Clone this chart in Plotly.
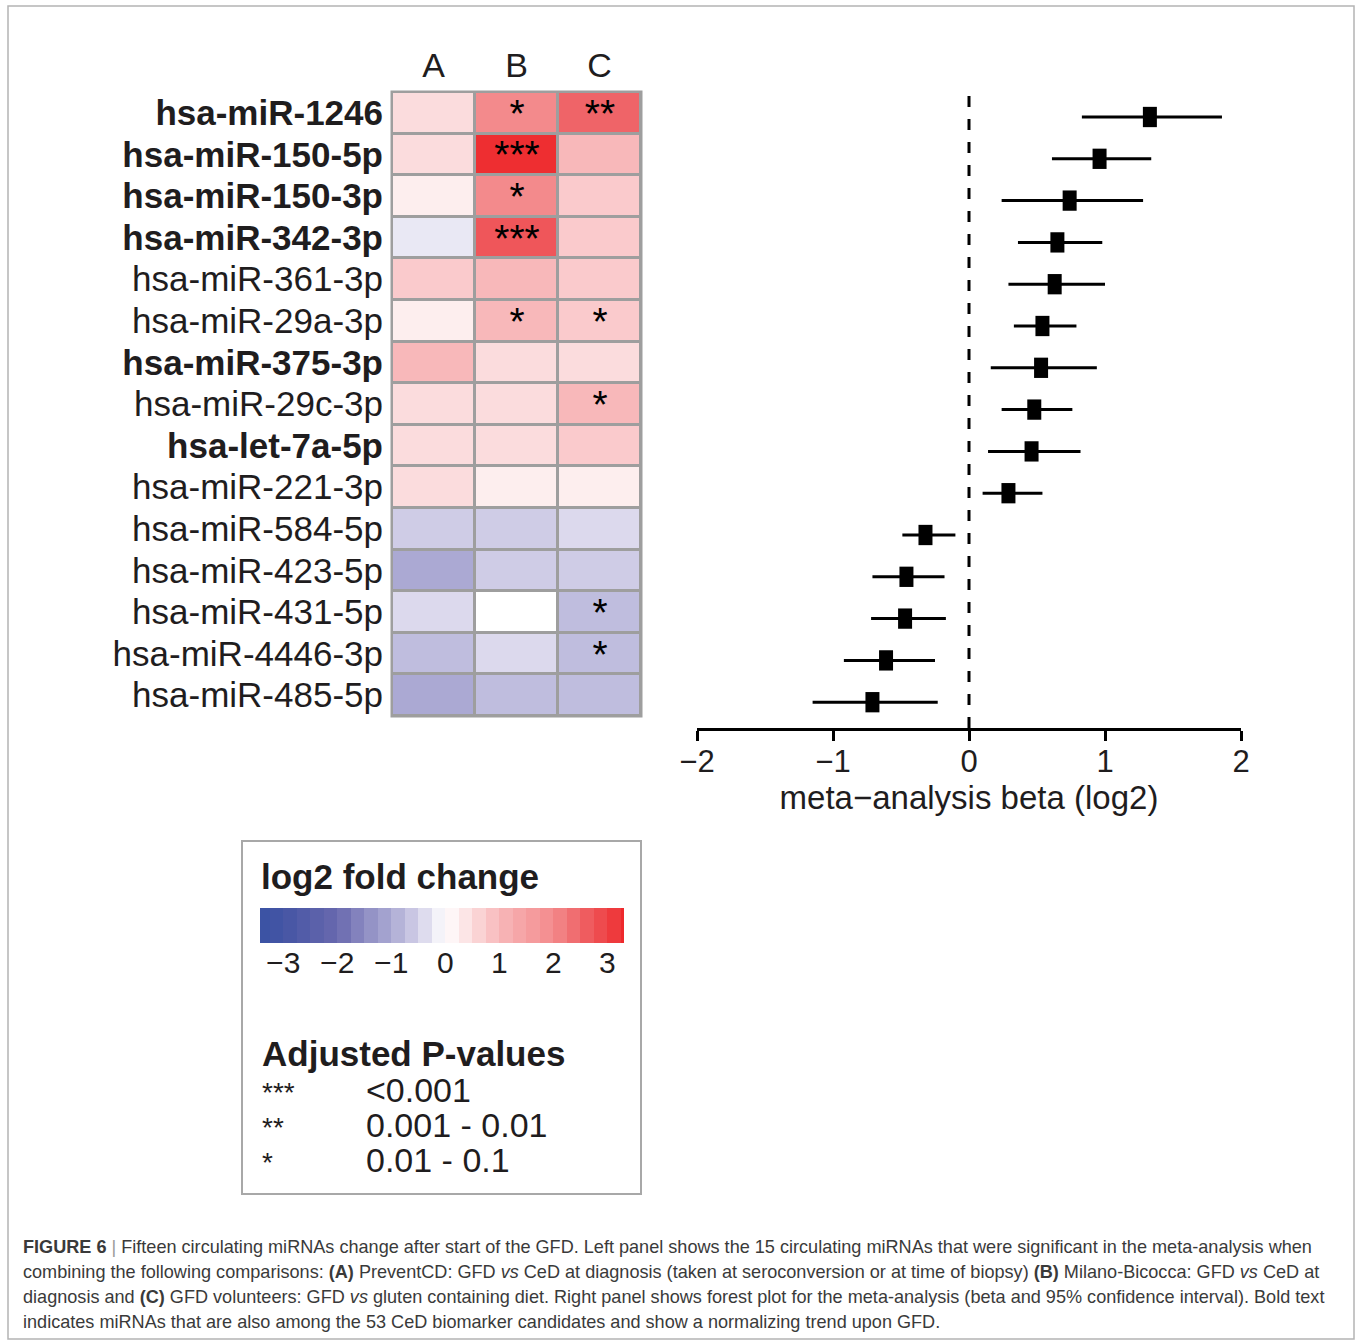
import plotly.graph_objects as go
import numpy as np

W, H = 1356, 1340


def px(x):
    return x / W


def py(y):
    return 1 - y / H


# ---------------- data ----------------
mirnas = ["hsa-miR-1246", "hsa-miR-150-5p", "hsa-miR-150-3p", "hsa-miR-342-3p",
          "hsa-miR-361-3p", "hsa-miR-29a-3p", "hsa-miR-375-3p", "hsa-miR-29c-3p",
          "hsa-let-7a-5p", "hsa-miR-221-3p", "hsa-miR-584-5p", "hsa-miR-423-5p",
          "hsa-miR-431-5p", "hsa-miR-4446-3p", "hsa-miR-485-5p"]
is_bold = [True, True, True, True, False, False, True, False, True, False,
           False, False, False, False, False]
columns = ["A", "B", "C"]

lfc_A = [0.5, 0.5, 0.25, -0.25, 0.75, 0.25, 1.0, 0.5, 0.5, 0.5,
         -0.55, -1.0, -0.4, -0.75, -1.0]
lfc_B = [2.0, 3.3, 2.0, 2.7, 1.0, 1.0, 0.5, 0.5, 0.5, 0.25,
         -0.55, -0.55, 0.0, -0.4, -0.75]
lfc_C = [2.5, 1.0, 0.75, 0.75, 0.75, 0.75, 0.5, 1.0, 0.75, 0.25,
         -0.4, -0.55, -0.75, -0.75, -0.75]

sig_A = [""] * 15
sig_B = ["*", "***", "*", "***", "", "*", "", "", "", "", "", "", "", "", ""]
sig_C = ["**", "", "", "", "", "*", "", "*", "", "", "", "", "*", "*", ""]

beta = [1.33, 0.96, 0.74, 0.65, 0.63, 0.54, 0.53, 0.48, 0.46, 0.29,
        -0.32, -0.46, -0.47, -0.61, -0.71]
ci_low = [0.83, 0.61, 0.24, 0.36, 0.29, 0.33, 0.16, 0.24, 0.14, 0.10,
          -0.49, -0.71, -0.72, -0.92, -1.15]
ci_high = [1.86, 1.34, 1.28, 0.98, 1.00, 0.79, 0.94, 0.76, 0.82, 0.54,
           -0.10, -0.18, -0.17, -0.25, -0.23]

forest_ticks = [-2, -1, 0, 1, 2]
forest_ticktext = ["\u22122", "\u22121", "0", "1", "2"]
lfc_ticks = [-3, -2, -1, 0, 1, 2, 3]
lfc_ticktext = ["\u22123", "\u22122", "\u22121", "0", "1", "2", "3"]
legend_steps = list(np.arange(-3.375, 3.4, 0.25))

sig_symbols = ["***", "**", "*"]
sig_labels = ["<0.001", "0.001 - 0.01", "0.01 - 0.1"]

caption_lines = [
    "<b>FIGURE 6</b> <span style='color:#9a9a9a'>|</span> Fifteen circulating miRNAs change after start of the GFD. Left panel shows the 15 circulating miRNAs that were significant in the meta-analysis when",
    "combining the following comparisons: <b>(A)</b> PreventCD: GFD <i>vs</i> CeD at diagnosis (taken at seroconversion or at time of biopsy) <b>(B)</b> Milano-Bicocca: GFD <i>vs</i> CeD at",
    "diagnosis and <b>(C)</b> GFD volunteers: GFD <i>vs</i> gluten containing diet. Right panel shows forest plot for the meta-analysis (beta and 95% confidence interval). Bold text",
    "indicates miRNAs that are also among the 53 CeD biomarker candidates and show a normalizing trend upon GFD.",
]

# ---------------- styling ----------------
FONT = "Liberation Sans, Arial, sans-serif"
INK = "#1f1d1e"
ZMIN, ZMAX = -3.5, 3.5
stops = [(-3.5, "#3953A4"), (-3.0, "#4454A4"), (-2.0, "#6868AE"), (-1.5, "#8C8BC2"),
         (-1.0, "#ABA9D3"), (-0.5, "#D3D0E8"), (0.0, "#FFFFFF"), (0.5, "#FBDCDD"),
         (1.0, "#F8B8BA"), (1.5, "#F5A0A2"), (2.0, "#F38A8C"), (2.5, "#EF6468"),
         (3.0, "#EE4245"), (3.5, "#EE2024")]
colorscale = [[(v - ZMIN) / (ZMAX - ZMIN), c] for v, c in stops]

rows = list(range(len(mirnas)))
z = [[a, b, c] for a, b, c in zip(lfc_A, lfc_B, lfc_C)]
txt = [[a, b, c] for a, b, c in zip(sig_A, sig_B, sig_C)]
ticktext_rows = [f"<b>{m}</b>" if b else m for m, b in zip(mirnas, is_bold)]

fig = go.Figure()

# heatmap
fig.add_trace(go.Heatmap(
    z=z, x=columns, y=rows, text=txt, texttemplate="%{text}",
    textfont=dict(size=39, color="black", family=FONT),
    colorscale=colorscale, zmin=ZMIN, zmax=ZMAX, showscale=False,
    xgap=3, ygap=3, hoverinfo="skip", xaxis="x", yaxis="y"))

# forest plot
fig.add_trace(go.Scatter(
    x=beta, y=rows, mode="markers",
    error_x=dict(type="data", symmetric=False,
                 array=[h - b for h, b in zip(ci_high, beta)],
                 arrayminus=[b - l for b, l in zip(beta, ci_low)],
                 thickness=3, width=0, color="black"),
    marker=dict(symbol="line-ns", size=14.5, color="black",
                line=dict(width=14, color="black")),
    hoverinfo="skip", xaxis="x2", yaxis="y2"))

# legend colour bar
fig.add_trace(go.Heatmap(
    z=[legend_steps], x=legend_steps, y=[0], colorscale=colorscale,
    zmin=ZMIN, zmax=ZMAX, showscale=False, hoverinfo="skip",
    xaxis="x3", yaxis="y3"))

row_step = 41.8
f_top, f_bot = 93, 728
r0 = 117
y2_top = -(r0 - f_top) / row_step
y2_bot = (len(rows) - 1) + (f_bot - (r0 + row_step * (len(rows) - 1))) / row_step

fig.update_layout(
    template="none",
    width=W, height=H, margin=dict(l=0, r=0, t=0, b=0, autoexpand=False),
    paper_bgcolor="white", plot_bgcolor="rgba(0,0,0,0)",
    font=dict(family=FONT, color=INK),
    showlegend=False,
    xaxis=dict(domain=[px(392), px(641)], side="top", showgrid=False, zeroline=False,
               showline=False, ticks="", tickfont=dict(size=34, color=INK),
               ticklabelstandoff=7, anchor="y", automargin=False),
    yaxis=dict(domain=[py(716), py(92)], range=[len(rows) - 0.5, -0.5],
               tickvals=rows, ticktext=ticktext_rows, showgrid=False, zeroline=False,
               showline=False, ticks="", tickfont=dict(size=35, color=INK),
               ticklabelstandoff=8, anchor="x", automargin=False),
    xaxis2=dict(domain=[px(697), px(1241)], range=[-2, 2], tickvals=forest_ticks,
                ticktext=forest_ticktext, showgrid=False, zeroline=False,
                showline=True, linewidth=3, linecolor="black", ticks="outside",
                ticklen=10, tickwidth=3, tickcolor="black",
                tickfont=dict(size=31, color=INK), anchor="y2",
                ticklabelstandoff=-6, automargin=False,
                title=dict(text="meta\u2212analysis beta (log2)",
                           font=dict(size=33, color=INK), standoff=3)),
    yaxis2=dict(domain=[py(f_bot), py(f_top)], range=[y2_bot, y2_top], visible=False,
                anchor="x2", automargin=False),
    xaxis3=dict(domain=[px(260), px(624)], range=[-3.43, 3.31], tickvals=lfc_ticks,
                ticktext=lfc_ticktext, showgrid=False, zeroline=False, showline=False,
                ticks="", tickfont=dict(size=30, color=INK), anchor="y3",
                ticklabelstandoff=-1, automargin=False),
    yaxis3=dict(domain=[py(943), py(908)], range=[-0.5, 0.5], visible=False, anchor="x3",
                automargin=False),
)

shapes = [
    # outer frame
    dict(type="rect", xref="paper", yref="paper", x0=px(8), x1=px(1354), y0=py(1339), y1=py(6),
         line=dict(color="#b4b4b4", width=1.5), fillcolor="rgba(0,0,0,0)", layer="below"),
    # heatmap grid background
    dict(type="rect", xref="paper", yref="paper", x0=px(390.5), x1=px(642.5),
         y0=py(717.5), y1=py(90.5), line=dict(width=0), fillcolor="#9e9e9e", layer="below"),
    # dashed zero line
    dict(type="line", xref="x2", yref="y2 domain", x0=0, x1=0, y0=0, y1=1,
         line=dict(color="black", width=3, dash="11px,12px")),
    # legend box
    dict(type="rect", xref="paper", yref="paper", x0=px(242), x1=px(641), y0=py(1194), y1=py(841),
         line=dict(color="#a8a8a8", width=2), fillcolor="rgba(0,0,0,0)"),
]
fig.update_layout(shapes=shapes)

ann = []
ann.append(dict(text="<b>log2 fold change</b>", x=px(259), y=py(876), xref="paper", yref="paper",
                xanchor="left", yanchor="middle", showarrow=False, font=dict(size=35, color=INK)))
ann.append(dict(text="<b>Adjusted P-values</b>", x=px(260), y=py(1053), xref="paper", yref="paper",
                xanchor="left", yanchor="middle", showarrow=False, font=dict(size=35, color=INK)))
for i, (s, lab) in enumerate(zip(sig_symbols, sig_labels)):
    yy = 1090 + 35 * i
    ann.append(dict(text=s, x=px(260), y=py(yy + 2), xref="paper", yref="paper",
                    xanchor="left", yanchor="middle", showarrow=False,
                    font=dict(size=28, color=INK)))
    ann.append(dict(text=lab, x=px(364), y=py(yy), xref="paper", yref="paper",
                    xanchor="left", yanchor="middle", showarrow=False,
                    font=dict(size=34, color=INK)))
for i, line in enumerate(caption_lines):
    ann.append(dict(text=line, x=px(21), y=py(1247 + 25 * i), xref="paper", yref="paper",
                    xanchor="left", yanchor="middle", showarrow=False, align="left",
                    font=dict(size=18.1, color="#3a3a3a")))
fig.update_layout(annotations=ann)

fig.write_html("out.html", config={"displayModeBar": False},
               post_script="document.body.style.margin='0px';")
